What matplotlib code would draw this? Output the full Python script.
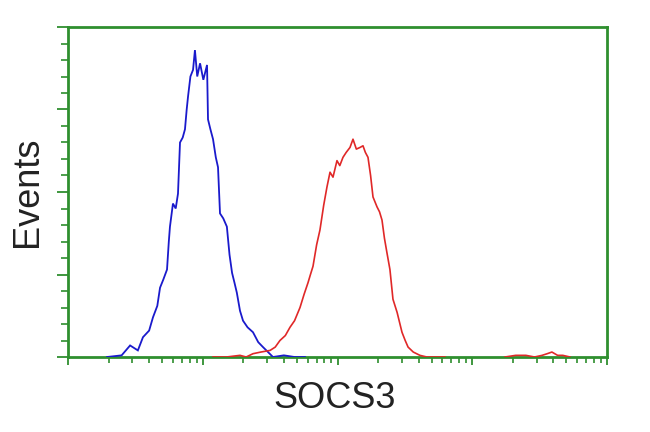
import matplotlib
matplotlib.use("Agg")
import matplotlib.pyplot as plt
from matplotlib.ticker import MultipleLocator, LogLocator, NullFormatter
import numpy as np

# ---- data (fluorescence intensity, event counts) ----
blue_x = [1.95, 2.5, 2.89, 3.3, 3.6, 4.0, 4.27, 4.6, 4.82, 5.1, 5.43, 5.6, 5.71, 6.01, 6.3,
          6.55, 6.78, 7.1, 7.38, 7.6, 7.78, 8.1, 8.47, 8.75, 9.1, 9.55, 10.1, 10.76, 10.94,
          11.4, 11.92, 12.5, 12.98, 13.43, 14.2, 15.1, 15.8, 16.5, 17.2, 17.9, 18.9, 19.9,
          21.5, 23.6, 25.8, 28.0, 30.5, 33.2, 40.0, 48.0, 57.4]
blue_y = [0, 1, 7, 4, 12, 16, 24, 31, 42, 47, 53, 70, 79, 93, 90,
          99, 130, 133, 138, 150, 158, 170, 174, 186, 170, 178, 168, 177, 144,
          138, 132, 121, 115, 87, 84, 79, 62, 51, 45, 39, 28, 22,
          18, 15, 9, 6, 3, 0, 1, 0, 0]

red_x = [11.9, 15.0, 18.9, 21.0, 23.6, 27.0, 31.6, 34.5, 37.4, 41.0, 44.4, 48.0, 52.7, 56.5,
         60.4, 63.0, 65.8, 70.0, 74.1, 79.0, 83.5, 88.0, 92.6, 99.1, 104.0, 109.8, 116.0,
         123.8, 130.3, 138.0, 146.9, 154.6, 161.0, 168.4, 176.0, 183.4, 196.4, 205.0,
         213.9, 223.0, 233.0, 245.0, 258.0, 277.0, 301.0, 318.0, 334.0, 365.0, 409.0,
         460.0, 511.0, 628.0]
red_y = [0, 0, 1, 0, 2, 3, 4, 6, 10, 13, 18, 22, 30, 38,
         45, 50, 55, 68, 77, 92, 103, 112, 109, 119, 116, 121, 124,
         127, 132, 126, 127, 128, 124, 121, 110, 97, 91, 88,
         83, 72, 63, 53, 35, 27, 15, 10, 6, 3, 1,
         0, 0, 0]

red_tail_x = [1750, 2100, 2500, 2900, 3300, 3600, 3900, 4300, 4700, 5310]
red_tail_y = [0, 1, 1, 0, 1, 2, 3, 1, 1, 0]

x_label = "SOCS3"
y_label = "Events"

# ---- figure ----
W, H = 650, 432
fig = plt.figure(figsize=(W / 100, H / 100), dpi=100)
ax = fig.add_axes([68 / W, 1 - 357 / H, (607 - 68) / W, (357 - 27) / H])

blue = "#1a1acc"
red = "#e02828"
green = "#2f8f2f"

ax.plot(blue_x, blue_y, color=blue, lw=1.3, solid_joinstyle="miter")
ax.plot(red_x, red_y, color=red, lw=1.2)
ax.plot(red_tail_x, red_tail_y, color=red, lw=1.2)

ax.set_xscale("log")
ax.set_xlim(1, 1e4)
ax.set_ylim(0, 200)

for s in ax.spines.values():
    s.set_color(green)
    s.set_linewidth(2)
    s.set_zorder(0.5)

ax.xaxis.set_major_locator(LogLocator(base=10, numticks=10))
ax.xaxis.set_minor_locator(LogLocator(base=10, subs=np.arange(2, 10), numticks=20))
ax.xaxis.set_major_formatter(NullFormatter())
ax.xaxis.set_minor_formatter(NullFormatter())
ax.yaxis.set_major_locator(MultipleLocator(50))
ax.yaxis.set_minor_locator(MultipleLocator(10))
ax.yaxis.set_major_formatter(NullFormatter())

ax.tick_params(axis="x", which="major", direction="out", length=6, width=1.3, color=green)
ax.tick_params(axis="x", which="minor", direction="out", length=4, width=1.2, color=green)
ax.tick_params(axis="y", which="major", direction="out", length=8, width=1.3, color=green)
ax.tick_params(axis="y", which="minor", direction="out", length=5, width=1.2, color=green)
ax.tick_params(top=False, right=False, which="both")

font = dict(family=["Liberation Sans", "DejaVu Sans"], size=26, color="#222222")
fig.text(335 / W, 1 - 398 / H, x_label, ha="center", va="center", **font)
fig.text(28 / W, 1 - 192 / H, y_label, ha="center", va="center", rotation=90, **font)

fig.savefig("out.png", dpi=100, facecolor="white")
